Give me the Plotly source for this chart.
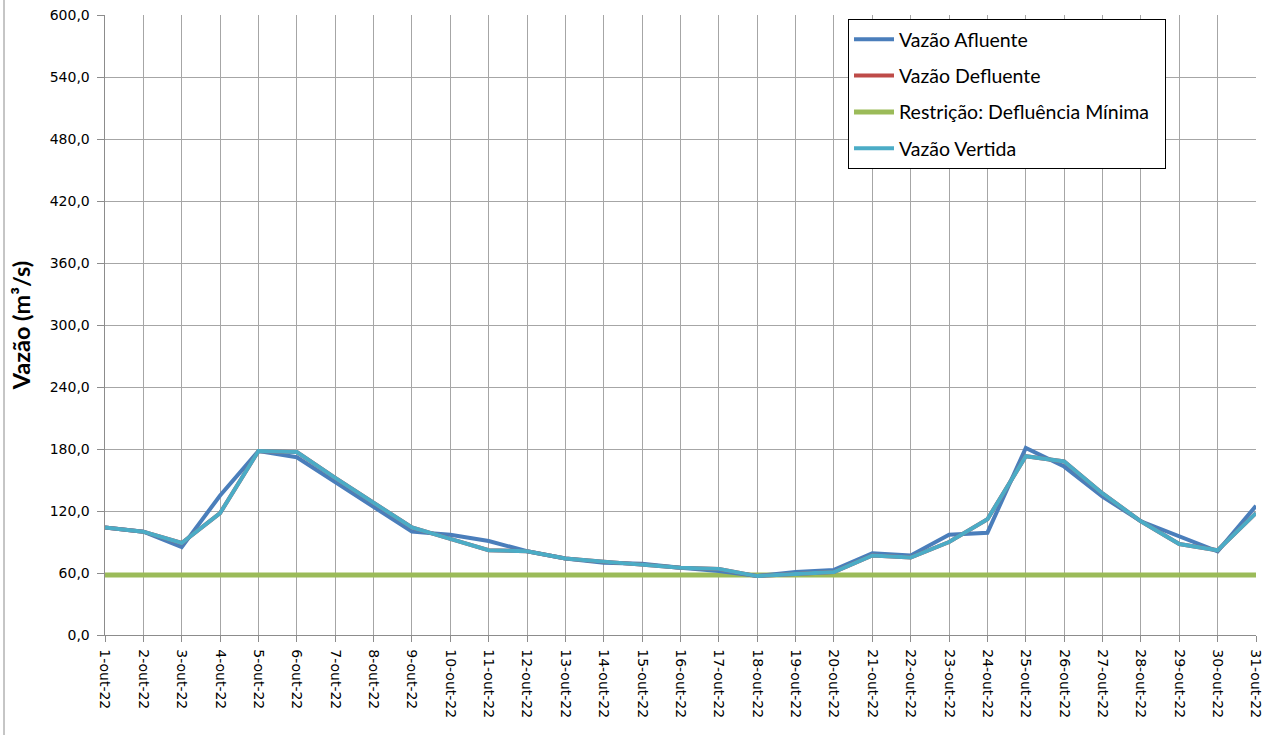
import plotly.graph_objects as go

dias = [f"{d}-out-22" for d in range(1, 32)]

vazao_afluente = [104, 100, 85, 135, 178, 172, 148, 124, 100, 97, 91, 81, 74, 70, 69, 65, 62, 57, 61, 63,
                  79, 77, 97, 99, 181, 163, 134, 110, 95, 81, 125]
vazao_vertida = [104, 100, 89, 118, 178, 177, 152, 128, 104, 93, 82, 81, 74, 71, 68, 65, 64, 57, 59, 61,
                 77, 75, 90, 112, 173, 168, 137, 110, 88, 82, 118]
vazao_defluente = list(vazao_vertida)
restricao_min = [58] * 31
y_ticks = list(range(0, 601, 60))

NB = "\u00a0"

fig = go.Figure()
fig.add_trace(go.Scatter(x=dias, y=restricao_min, mode="lines", name="Restrição: Defluência Mínima" + NB * 2,
                         line=dict(color="#9BBB59", width=5), legendrank=3, legendgroup="c"))
fig.add_trace(go.Scatter(x=dias, y=vazao_afluente, mode="lines", name="Vazão Afluente",
                         line=dict(color="#4A7EBB", width=4), legendrank=1, legendgroup="a"))
fig.add_trace(go.Scatter(x=dias, y=vazao_defluente, mode="lines", name="Vazão Defluente",
                         line=dict(color="#BE4B48", width=4), legendrank=2, legendgroup="b"))
fig.add_trace(go.Scatter(x=dias, y=vazao_vertida, mode="lines", name="Vazão Vertida",
                         line=dict(color="#4BACC6", width=4), legendrank=4, legendgroup="d"))

W, H = 1269, 735
L, T = 105, 15
R = W - 1256
B = H - 635
pw, ph = W - L - R, H - T - B

fig.update_layout(
    width=W, height=H,
    margin=dict(l=L, r=R, t=T, b=B, autoexpand=False),
    paper_bgcolor="white", plot_bgcolor="white",
    font=dict(family="DejaVu Sans, sans-serif", color="black", size=14),
    showlegend=True,
    legend=dict(x=(848 - L) / pw, y=1 - (19 - T) / ph, xanchor="left", yanchor="top",
                bgcolor="white", bordercolor="black", borderwidth=1,
                font=dict(size=19.5, family="Lato, sans-serif"),
                tracegroupgap=8, itemwidth=40, traceorder="grouped"),
)
fig.update_xaxes(type="category", range=[0, 30], showgrid=True, gridcolor="#A6A6A6", gridwidth=1,
                 showline=True, linecolor="#8C8C8C", linewidth=1, mirror=False,
                 ticks="outside", ticklen=6, tickcolor="#8C8C8C", tickangle=90,
                 tickvals=dias, ticktext=[NB + d for d in dias],
                 tickfont=dict(size=14, family="DejaVu Sans, sans-serif"), zeroline=False,
                 automargin=False, ticklabeloverflow="allow")
fig.update_yaxes(range=[0, 600], tickvals=y_ticks,
                 ticktext=[f"{v},0{NB}" for v in y_ticks],
                 showgrid=True, gridcolor="#A6A6A6", gridwidth=1,
                 showline=True, linecolor="#8C8C8C", linewidth=1,
                 ticks="outside", ticklen=7, tickcolor="#8C8C8C",
                 tickfont=dict(size=14, family="DejaVu Sans, sans-serif"), zeroline=False,
                 automargin=False, ticklabeloverflow="allow",
                 title=dict(text="<b>Vazão (m³/s)</b>", font=dict(size=23.5, family="Lato, sans-serif"),
                            standoff=12))
fig.add_shape(type="line", xref="paper", yref="paper",
              x0=(4 - L) / pw, x1=(4 - L) / pw, y0=-B / ph, y1=1 + T / ph,
              line=dict(color="#8C8C8C", width=1))

fig.write_html("out.html", config={"displayModeBar": False},
               post_script="document.body.style.margin='0';document.body.style.overflow='hidden';")
